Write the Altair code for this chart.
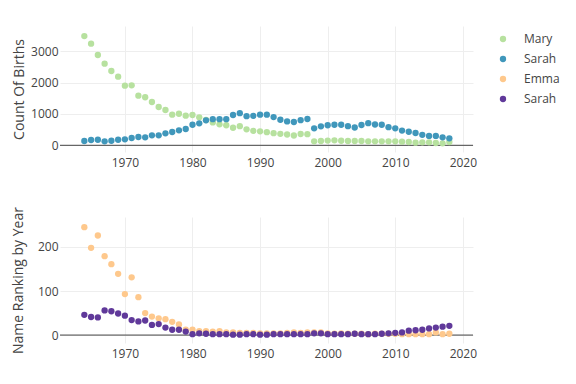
import altair as alt
import pandas as pd

years = list(range(1964, 2019))

mary_count = [3480, 3236, 2876, 2600, 2366, 2185, 1900, 1910, 1580, 1530,
              1380, 1220, 1125, 975, 1005, 943, 965, 890, 805, 730,
              668, 640, 560, 610, 510, 460, 446, 420, 387, 365,
              345, 312, 360, 355, 127, 137, 150, 159, 146, 137,
              137, 137, 127, 127, 127, 127, 127, 115, 105, 83,
              95, 95, 73, 64, 105]
sarah_count = [137, 169, 178, 127, 146, 178, 191, 232, 264, 254,
               318, 318, 382, 424, 478, 519, 656, 700, 795, 833,
               833, 833, 965, 1024, 928, 938, 975, 975, 900, 815,
               760, 742, 800, 838, 541, 605, 640, 656, 656, 610,
               567, 646, 705, 662, 656, 578, 541, 470, 433, 392,
               333, 300, 300, 254, 223]
emma_rank = [245, 198, 226, 179, 161, 139, 93, 131, 86, 50,
             42, 38, 36, 30, 24, 12, 12, 9, 9, 8,
             9, 6, 6, 5, 5, 5, 4, 4, 4, 4,
             5, 6, 5, 6, 6, 6, 4, 3, 4, 3,
             3, 3, 2, 3, 3, 3, 3, 2, 2, 2,
             2, 2, 6, 2, 3]
sarah_rank = [46, 41, 40, 56, 54, 49, 44, 34, 31, 33,
              23, 25, 17, 12, 12, 8, 2, 4, 3, 2,
              2, 2, 1, 1, 2, 2, 1, 1, 2, 2,
              2, 2, 2, 2, 4, 4, 2, 2, 2, 2,
              3, 2, 2, 2, 3, 4, 5, 6, 10, 11,
              12, 15, 17, 19, 21]

series_keys = ["Mary", "Sarah_1", "Emma", "Sarah_2"]
series_colors = ["#b7e19f", "#4097bb", "#fec88c", "#60399a"]
x_ticks = [1970, 1980, 1990, 2000, 2010, 2020]
top_ticks = [0, 1000, 2000, 3000]
bottom_ticks = [0, 100, 200]

rows = []
for key, vals, panel in [("Mary", mary_count, "count"),
                         ("Sarah_1", sarah_count, "count"),
                         ("Emma", emma_rank, "rank"),
                         ("Sarah_2", sarah_rank, "rank")]:
    for yr, v in zip(years, vals):
        rows.append({"year": yr, "value": v, "series": key, "panel": panel})
df = pd.DataFrame(rows)
zero_df = pd.DataFrame({"value": [0]})

color = alt.Color(
    "series:N",
    scale=alt.Scale(domain=series_keys, range=series_colors),
    legend=alt.Legend(
        title=None, orient="none", legendX=437, legendY=7,
        labelExpr="split(datum.label, '_')[0]",
        symbolType="circle", symbolSize=40, symbolStrokeWidth=0,
        labelFontSize=12, labelColor="#444", labelFont="Open Sans",
        labelAlign="left", labelOffset=15, rowPadding=8, padding=0,
    ),
)


def panel(name, ticks, domain, title, title_x):
    x = alt.X("year:Q",
              scale=alt.Scale(domain=[1960.4, 2021.5], nice=False, zero=False),
              axis=alt.Axis(values=x_ticks, title=None, format="d",
                            labelPadding=5))
    y = alt.Y("value:Q",
              scale=alt.Scale(domain=domain, nice=False, zero=False),
              axis=alt.Axis(values=ticks, title=title, titleX=title_x, format="d",
                            titleY=63, titleAngle=270, titleAlign="center",
                            titleBaseline="alphabetic", labelPadding=2))
    zero = alt.Chart(zero_df).mark_rule(color="#444", strokeWidth=1).encode(y=y)
    pts = (alt.Chart(df).transform_filter(alt.datum.panel == name)
           .mark_circle(size=40, opacity=1)
           .encode(x=x, y=y, color=color))
    return alt.layer(zero, pts).properties(width=413, height=126)


top = panel("count", top_ticks, [-213, 3800], "Count Of Births", -37)
bottom = panel("rank", bottom_ticks, [-18, 268], "Name Ranking by Year", -38)

chart = alt.VConcatChart(vconcat=[top, bottom], spacing=65, bounds="flush").properties(
    padding={"left": 2, "top": 18, "right": 0, "bottom": 5},
    background="white",
).configure_view(stroke=None).configure_axis(
    domain=False, ticks=False, tickSize=0, gridColor="#eeeeee", gridWidth=1,
    labelFont="Open Sans", labelFontSize=12, labelColor="#444",
    titleFont="Open Sans", titleFontSize=14, titleColor="#444",
    titleFontWeight="normal",
)

chart.save("out.html", embed_options={"renderer": "svg", "actions": False})
